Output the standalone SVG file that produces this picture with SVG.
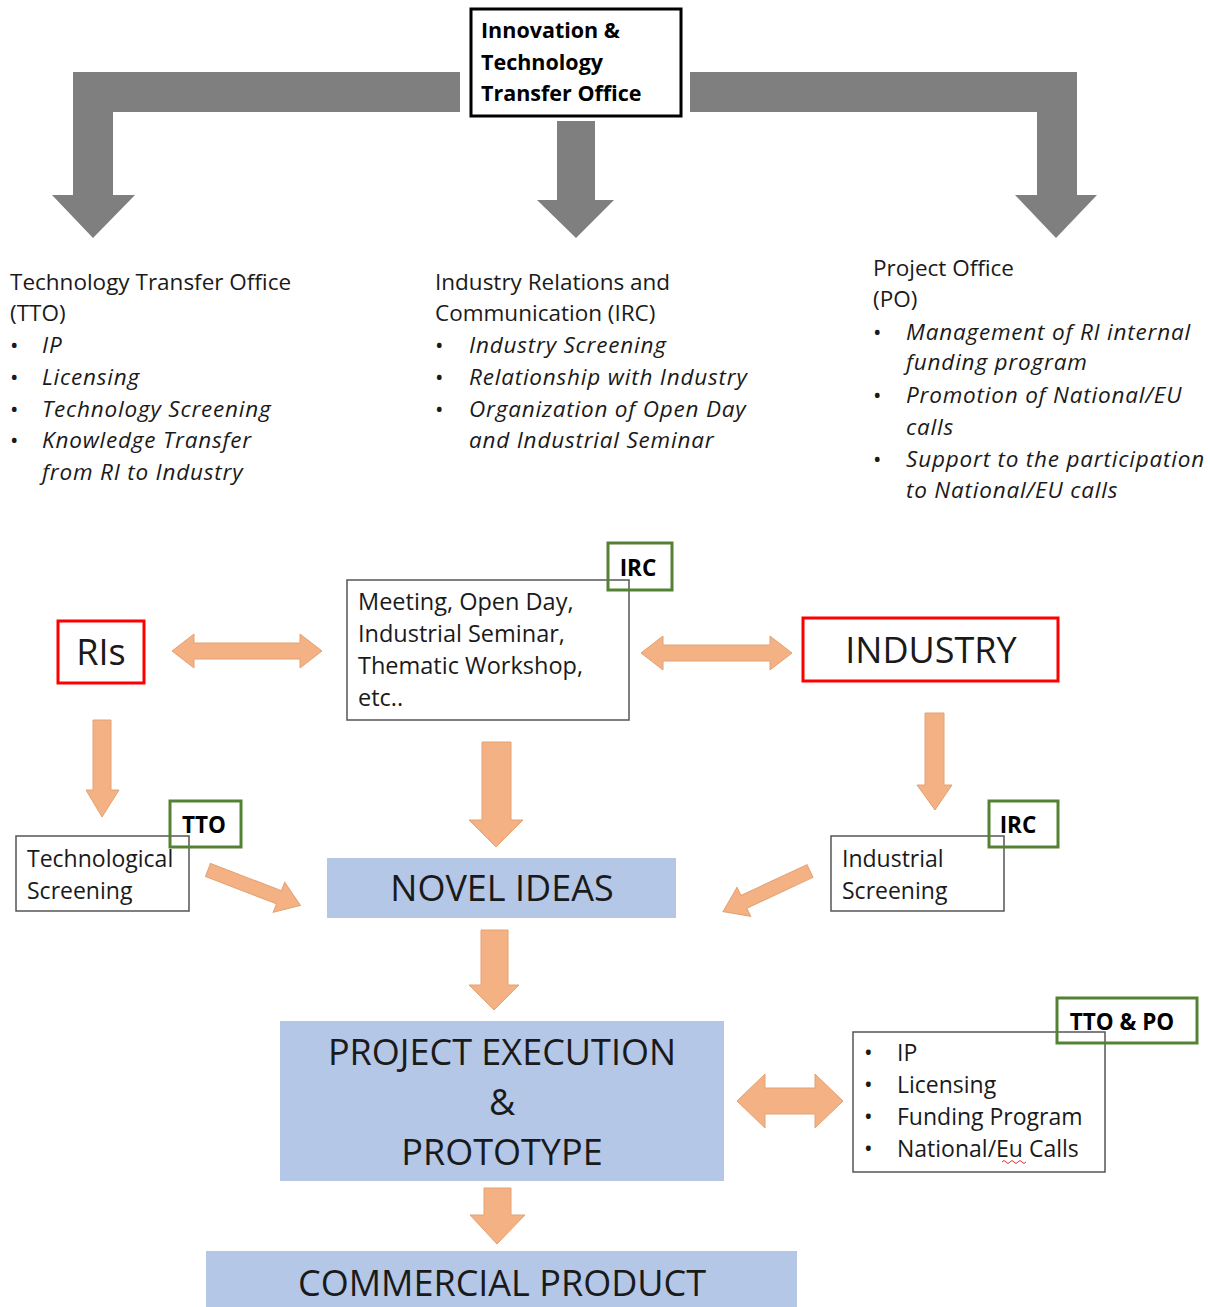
<svg xmlns="http://www.w3.org/2000/svg" width="1210" height="1307" viewBox="0 0 1210 1307">
<style>
text{font-family:"Open Sans","DejaVu Sans",sans-serif;fill:#1a1a1a}
.t{font-size:22.5px}
.it{font-size:22.5px;font-style:italic;letter-spacing:0.8px}
.m{font-size:23.5px}
.b{font-size:23px}
.lbl{font-size:22.5px;font-weight:700;fill:#000}
.big{font-size:36px}
.gray{fill:#7f7f7f}
.or{fill:#f4b183;stroke:#e3a273;stroke-width:1}
.box{fill:#fff;stroke:#555;stroke-width:1.5}
.red{fill:#fff;stroke:#ff0000;stroke-width:3}
.grn{fill:none;stroke:#548235;stroke-width:3}
.blue{fill:#b4c7e7}
</style>
<g id="connectors">
  <path class="gray" d="M460,72 L73,72 L73,195 L52,195 L93,238 L135,195 L113,195 L113,112 L460,112 Z"/>
  <path class="gray" d="M557,121 L595,121 L595,200 L614,200 L576,238 L537,200 L557,200 Z"/>
  <path class="gray" d="M690,72 L1077,72 L1077,195 L1097,195 L1056,238 L1015,195 L1037,195 L1037,112 L690,112 Z"/>
  <path class="or" d="M172,651 L194,634 L194,643 L300,643 L300,634 L322,651 L300,668 L300,659 L194,659 L194,668 Z"/>
  <path class="or" d="M641,653 L663,636 L663,645 L770,645 L770,636 L792,653 L770,670 L770,661 L663,661 L663,670 Z"/>
  <path class="or" d="M93,720 L111,720 L111,790 L119,790 L102,817 L86,790 L93,790 Z"/>
  <path class="or" d="M482,742 L511,742 L511,820 L523,820 L496,847 L469,820 L482,820 Z"/>
  <path class="or" d="M925,713 L944,713 L944,785 L952,785 L935,810 L917,785 L925,785 Z"/>
  <path class="or" transform="translate(208,870) rotate(21)" d="M0,-7 L76,-7 L76,-16 L99,0 L76,16 L76,7 L0,7 Z"/>
  <path class="or" transform="translate(810,871) rotate(155)" d="M0,-7 L73,-7 L73,-16 L96,0 L73,16 L73,7 L0,7 Z"/>
  <path class="or" d="M481,930 L508,930 L508,985 L519,985 L494,1010 L469,985 L481,985 Z"/>
  <path class="or" d="M737,1101 L765,1074 L765,1088 L815,1088 L815,1074 L843,1101 L815,1128 L815,1114 L765,1114 L765,1128 Z"/>
  <path class="or" d="M484,1188 L511,1188 L511,1215 L525,1215 L497,1244 L470,1215 L484,1215 Z"/>
</g>
<g id="itto">
  <rect x="471" y="9" width="210" height="107" fill="#fff" stroke="#000" stroke-width="3"/>
  <text x="481" y="38" class="lbl" style="font-size:21.5px">Innovation &amp;</text>
  <text x="481" y="70" class="lbl" style="font-size:21.5px">Technology</text>
  <text x="481" y="101" class="lbl" style="font-size:21.5px">Transfer Office</text>
</g>
<g id="tto-desc">
  <text x="10" y="290" class="t">Technology Transfer Office</text>
  <text x="10" y="321" class="t">(TTO)</text>
  <text x="10" y="353" class="t">•</text><text x="42" y="353" class="it">IP</text>
  <text x="10" y="385" class="t">•</text><text x="42" y="385" class="it">Licensing</text>
  <text x="10" y="417" class="t">•</text><text x="42" y="417" class="it">Technology Screening</text>
  <text x="10" y="448" class="t">•</text><text x="42" y="448" class="it">Knowledge Transfer</text>
  <text x="42" y="480" class="it">from RI to Industry</text>
</g>
<g id="irc-desc">
  <text x="435" y="290" class="t">Industry Relations and</text>
  <text x="435" y="321" class="t">Communication (IRC)</text>
  <text x="435" y="353" class="t">•</text><text x="469" y="353" class="it">Industry Screening</text>
  <text x="435" y="385" class="t">•</text><text x="469" y="385" class="it">Relationship with Industry</text>
  <text x="435" y="417" class="t">•</text><text x="469" y="417" class="it">Organization of Open Day</text>
  <text x="469" y="448" class="it">and Industrial Seminar</text>
</g>
<g id="po-desc">
  <text x="873" y="276" class="t">Project Office</text>
  <text x="873" y="307" class="t">(PO)</text>
  <text x="873" y="340" class="t">•</text><text x="906" y="340" class="it">Management of RI internal</text>
  <text x="906" y="370" class="it">funding program</text>
  <text x="873" y="403" class="t">•</text><text x="906" y="403" class="it">Promotion of National/EU</text>
  <text x="906" y="435" class="it">calls</text>
  <text x="873" y="467" class="t">•</text><text x="906" y="467" class="it">Support to the participation</text>
  <text x="906" y="498" class="it">to National/EU calls</text>
</g>
<g id="ris">
  <rect x="58" y="621" width="86" height="62" class="red"/>
  <text x="101" y="665" class="big" text-anchor="middle">RIs</text>
</g>
<g id="meeting">
  <rect x="347" y="580" width="282" height="140" class="box"/>
  <text x="358" y="610" class="m">Meeting, Open Day,</text>
  <text x="358" y="642" class="m">Industrial Seminar,</text>
  <text x="358" y="674" class="m">Thematic Workshop,</text>
  <text x="358" y="706" class="m">etc..</text>
</g>
<g id="meeting-irc">
  <rect x="608" y="543" width="64" height="47" class="grn"/>
  <text x="638" y="576" class="lbl" text-anchor="middle">IRC</text>
</g>
<g id="industry">
  <rect x="803" y="618" width="255" height="63" class="red"/>
  <text x="931" y="663" class="big" text-anchor="middle">INDUSTRY</text>
</g>
<g id="tech-screening">
  <rect x="16" y="836" width="173" height="75" class="box"/>
  <text x="27" y="867" class="b">Technological</text>
  <text x="27" y="899" class="b">Screening</text>
</g>
<g id="tech-tto">
  <rect x="170" y="801" width="71" height="46" class="grn"/>
  <text x="204" y="833" class="lbl" text-anchor="middle">TTO</text>
</g>
<g id="novel-ideas">
  <rect x="327" y="858" width="349" height="60" class="blue"/>
  <text x="502" y="901" class="big" text-anchor="middle">NOVEL IDEAS</text>
</g>
<g id="ind-screening">
  <rect x="831" y="836" width="173" height="75" class="box"/>
  <text x="842" y="867" class="b">Industrial</text>
  <text x="842" y="899" class="b">Screening</text>
</g>
<g id="ind-irc">
  <rect x="989" y="801" width="69" height="46" class="grn"/>
  <text x="1018" y="833" class="lbl" text-anchor="middle">IRC</text>
</g>
<g id="project">
  <rect x="280" y="1021" width="444" height="160" class="blue"/>
  <text x="502" y="1065" class="big" text-anchor="middle">PROJECT EXECUTION</text>
  <text x="502" y="1115" class="big" text-anchor="middle">&amp;</text>
  <text x="502" y="1165" class="big" text-anchor="middle">PROTOTYPE</text>
</g>
<g id="services">
  <rect x="853" y="1032" width="252" height="140" class="box"/>
  <text x="864" y="1061" class="b">•</text><text x="897" y="1061" class="b">IP</text>
  <text x="864" y="1093" class="b">•</text><text x="897" y="1093" class="b">Licensing</text>
  <text x="864" y="1125" class="b">•</text><text x="897" y="1125" class="b">Funding Program</text>
  <text x="864" y="1157" class="b">•</text><text x="897" y="1157" class="b">National/Eu Calls</text>
  <path d="M1002,1162 q2,-3 4,0 t4,0 t4,0 t4,0 t4,0 t4,0" fill="none" stroke="#e03030" stroke-width="1"/>
</g>
<g id="services-tto-po">
  <rect x="1057" y="998" width="140" height="45" class="grn"/>
  <text x="1122" y="1030" class="lbl" text-anchor="middle">TTO &amp; PO</text>
</g>
<g id="commercial">
  <rect x="206" y="1251" width="591" height="60" class="blue"/>
  <text x="502" y="1296" class="big" text-anchor="middle">COMMERCIAL PRODUCT</text>
</g>
</svg>
